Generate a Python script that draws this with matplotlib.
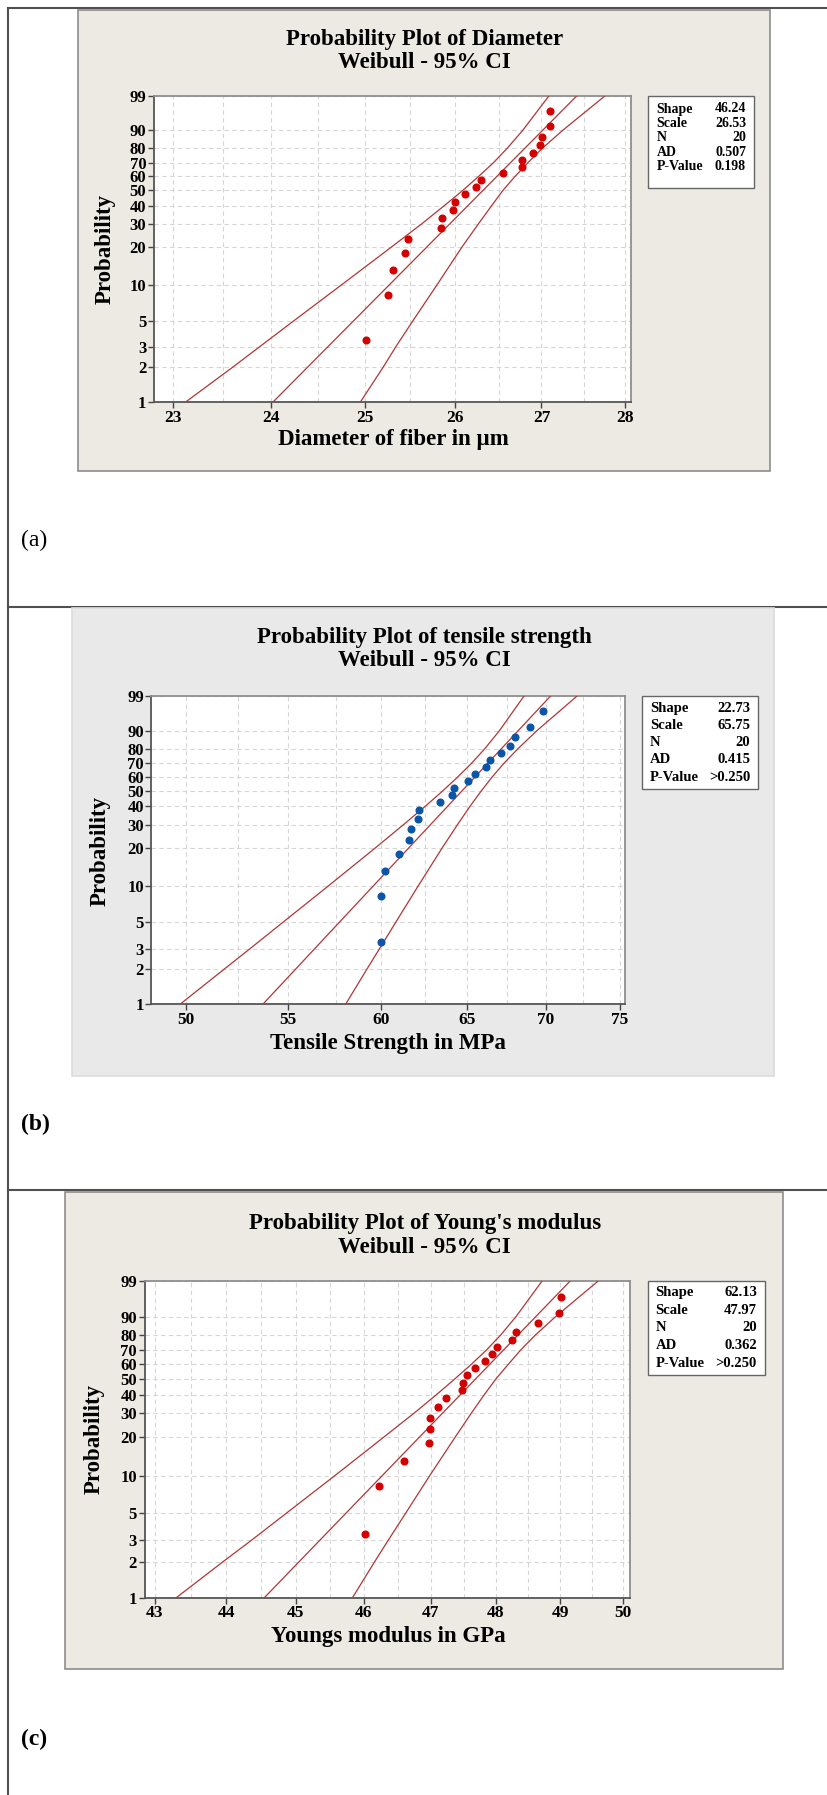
import numpy as np
import matplotlib
matplotlib.use('Agg')
import matplotlib.pyplot as plt
from matplotlib.patches import Rectangle
from matplotlib.lines import Line2D
from matplotlib.ticker import FixedLocator, FixedFormatter, NullFormatter

# ---------------- data ----------------
plot_pct = [3.4, 8.3, 13.2, 18.1, 23.0, 27.9, 32.8, 37.7, 42.6, 47.5,
            52.5, 57.4, 62.3, 67.2, 72.1, 77.0, 81.9, 86.8, 91.7, 96.6]

diam_x = [25.01, 25.25, 25.31, 25.44, 25.48, 25.84, 25.85, 25.98, 26.00, 26.12,
          26.24, 26.30, 26.55, 26.77, 26.77, 26.90, 26.98, 27.01, 27.10, 27.10]
tens_x = [60.00, 60.00, 60.23, 61.01, 61.56, 61.68, 62.08, 62.14, 63.41, 64.09,
          64.25, 65.08, 65.49, 66.16, 66.45, 67.10, 67.67, 67.99, 68.96, 69.81]
young_x = [46.02, 46.22, 46.59, 46.97, 46.99, 46.99, 47.11, 47.23, 47.48, 47.49,
           47.56, 47.68, 47.83, 47.94, 48.01, 48.25, 48.31, 48.65, 48.99, 49.01]

ci_pct = [1, 2, 3, 5, 10, 20, 30, 40, 50, 60, 70, 80, 90, 99]
diam_ci_left = [23.12, 23.60, 23.88, 24.24, 24.75, 25.29, 25.63, 25.88, 26.09, 26.27, 26.44, 26.60, 26.78, 27.09]
diam_ci_right = [24.95, 25.20, 25.34, 25.53, 25.80, 26.08, 26.27, 26.42, 26.55, 26.69, 26.84, 27.01, 27.25, 27.76]
tens_ci_left = [49.70, 51.80, 53.08, 54.73, 57.10, 59.65, 61.27, 62.51, 63.54, 64.45, 65.29, 66.11, 67.02, 68.59]
tens_ci_right = [58.03, 59.20, 59.91, 60.82, 62.11, 63.51, 64.44, 65.19, 65.88, 66.56, 67.30, 68.19, 69.41, 72.09]
young_ci_left = [43.30, 43.96, 44.36, 44.86, 45.56, 46.29, 46.75, 47.09, 47.37, 47.62, 47.85, 48.07, 48.31, 48.72]
young_ci_right = [45.83, 46.16, 46.36, 46.62, 46.98, 47.37, 47.62, 47.82, 48.00, 48.19, 48.38, 48.61, 48.93, 49.61]

fit_pct = [1, 99]
diam_shape, diam_scale = 46.24, 26.53
tens_shape, tens_scale = 22.73, 65.75
young_shape, young_scale = 62.13, 47.97

stat_labels = ['Shape', 'Scale', 'N', 'AD', 'P-Value']
diam_stats = ['46.24', '26.53', '20', '0.507', '0.198']
tens_stats = ['22.73', '65.75', '20', '0.415', '>0.250']
young_stats = ['62.13', '47.97', '20', '0.362', '>0.250']

y_ticks = [1, 2, 3, 5, 10, 20, 30, 40, 50, 60, 70, 80, 90, 99]
diam_ticks = [23, 24, 25, 26, 27, 28]
tens_ticks = [50, 55, 60, 65, 70, 75]
young_ticks = [43, 44, 45, 46, 47, 48, 49, 50]

# ---------------- figure ----------------
W, H = 827, 1795
plt.rcParams['font.family'] = ['Liberation Serif', 'DejaVu Serif']
plt.rcParams['font.weight'] = 'bold'
fig = plt.figure(figsize=(W / 100, H / 100), dpi=100)
fig.patch.set_facecolor('white')


def fx(px):
    return px / W


def fy(py):
    return 1 - py / H


def fwd(p):
    p = np.clip(np.asarray(p, dtype=float), 1e-6, 100 - 1e-6)
    return np.log(-np.log(1 - p / 100.0))


def inv(y):
    y = np.asarray(y, dtype=float)
    return 100.0 * (1 - np.exp(-np.exp(y)))


LINE_C = '#b03636'

panels = [
    dict(box=(77.5, 9.6, 770, 470.7), fc='#ede9e3', ec='#8c8c8c',
         axes=(154, 95.7, 631, 402.3), xlim=(22.807, 28.074), ticks=diam_ticks,
         title='Probability Plot of Diameter', ty=(40, 63),
         xlabel='Diameter of fiber in µm', xl=(393, 440), yl=(105.5, 249),
         leg=(647.7, 95.7, 754, 187.5), leg_x=(656.7, 746),
         leg_rows=[109, 123.3, 137.7, 152.3, 166.7], leg_fs=10,
         tag='(a)', tag_pos=(21, 540), tag_w='normal',
         x=diam_x, color='#d40000', cil=diam_ci_left, cir=diam_ci_right,
         shape=diam_shape, scale=diam_scale, stats=diam_stats),
    dict(box=(72, 608, 774, 1075.7), fc='#e9e9e9', ec='#dcdcdc',
         axes=(151.4, 695.7, 625, 1004.4), xlim=(48.394, 75.37), ticks=tens_ticks,
         title='Probability Plot of tensile strength', ty=(638, 661),
         xlabel='Tensile Strength in MPa', xl=(388.4, 1044), yl=(100, 850.7),
         leg=(642, 695.7, 758, 789), leg_x=(650, 750),
         leg_rows=[708.3, 725.1, 742, 759.2, 777.2], leg_fs=10.5,
         tag='(b)', tag_pos=(21, 1124), tag_w='bold',
         x=tens_x, color='#0b55a8', cil=tens_ci_left, cir=tens_ci_right,
         shape=tens_shape, scale=tens_scale, stats=tens_stats),
    dict(box=(65, 1192, 783, 1668.7), fc='#ede9e3', ec='#8c8c8c',
         axes=(144.5, 1280.8, 629.7, 1597.7), xlim=(42.859, 50.113), ticks=young_ticks,
         title="Probability Plot of Young's modulus", ty=(1223.5, 1247.4),
         xlabel='Youngs modulus in GPa', xl=(388, 1636.4), yl=(94, 1439),
         leg=(647.7, 1280.5, 765, 1375.3), leg_x=(655.6, 756.9),
         leg_rows=[1292.6, 1310.4, 1327.9, 1345.4, 1363.6], leg_fs=10.5,
         tag='(c)', tag_pos=(21, 1739), tag_w='bold',
         x=young_x, color='#d40000', cil=young_ci_left, cir=young_ci_right,
         shape=young_shape, scale=young_scale, stats=young_stats),
]

# table rules
for (x0, y0, x1, y1) in [(8, 8.4, 827, 8.4), (8, 8.4, 8, 1795),
                         (8, 607, 827, 607), (8, 1190, 827, 1190)]:
    fig.add_artist(Line2D([fx(x0), fx(x1)], [fy(y0), fy(y1)], transform=fig.transFigure,
                          color='#505050', lw=1.5, zorder=-2))

for P in panels:
    bx0, by0, bx1, by1 = P['box']
    fig.add_artist(Rectangle((fx(bx0), fy(by1)), (bx1 - bx0) / W, (by1 - by0) / H,
                             transform=fig.transFigure, facecolor=P['fc'],
                             edgecolor=P['ec'], lw=1.2, zorder=-1))
    l, t, r, b = P['axes']
    ax = fig.add_axes([fx(l), fy(b), (r - l) / W, (b - t) / H])
    ax.set_facecolor('white')
    ax.set_xscale('log')
    ax.set_yscale('function', functions=(fwd, inv))
    ax.set_xlim(*P['xlim'])
    ax.set_ylim(1, 99)

    ticks = P['ticks']
    mids = [(a + c) / 2 for a, c in zip(ticks[:-1], ticks[1:])]
    ax.xaxis.set_major_locator(FixedLocator(ticks))
    ax.xaxis.set_major_formatter(FixedFormatter([str(v) for v in ticks]))
    ax.xaxis.set_minor_locator(FixedLocator(mids))
    ax.xaxis.set_minor_formatter(NullFormatter())
    ax.yaxis.set_major_locator(FixedLocator(y_ticks))
    ax.yaxis.set_major_formatter(FixedFormatter([str(v) for v in y_ticks]))
    ax.yaxis.set_minor_locator(FixedLocator([]))

    ax.set_axisbelow(True)
    ax.grid(True, which='both', axis='x', color='#d6d6d6', lw=0.8, ls=(0, (4, 3)))
    ax.grid(True, which='major', axis='y', color='#d6d6d6', lw=0.8, ls=(0, (4, 3)))
    ax.tick_params(axis='both', which='major', direction='out', length=4, width=1,
                   color='#444444')
    ax.tick_params(axis='x', which='minor', length=0)
    ax.tick_params(axis='x', labelsize=12.5, pad=1.5)
    ax.tick_params(axis='y', labelsize=12, pad=1.5)
    for s in ('left', 'bottom'):
        ax.spines[s].set_color('#555555')
        ax.spines[s].set_linewidth(1.3)
    for s in ('top', 'right'):
        ax.spines[s].set_color('#8f8f8f')
        ax.spines[s].set_linewidth(1.3)

    # fitted line and confidence bounds
    shp, scl = P['shape'], P['scale']
    fit_x = [scl * (-np.log(1 - p / 100.0)) ** (1.0 / shp) for p in fit_pct]
    ax.plot(fit_x, fit_pct, color=LINE_C, lw=0.9, zorder=3)
    ax.plot(P['cil'], ci_pct, color=LINE_C, lw=0.9, zorder=3)
    ax.plot(P['cir'], ci_pct, color=LINE_C, lw=0.9, zorder=3)
    ax.plot(P['x'], plot_pct, 'o', color=P['color'], ms=4.8, mec=P['color'],
            zorder=4, clip_on=False)

    # texts
    fig.text(fx(424.6), fy(P['ty'][0]), P['title'], ha='center', va='center',
             fontsize=16.5, fontweight='bold')
    fig.text(fx(424.6), fy(P['ty'][1]), 'Weibull - 95% CI', ha='center', va='center',
             fontsize=16.5, fontweight='bold')
    fig.text(fx(P['xl'][0]), fy(P['xl'][1]), P['xlabel'], ha='center', va='center',
             fontsize=16.5, fontweight='bold')
    fig.text(fx(P['yl'][0]), fy(P['yl'][1]), 'Probability', ha='center', va='center',
             rotation=90, fontsize=16.5, fontweight='bold')
    fig.text(fx(P['tag_pos'][0]), fy(P['tag_pos'][1]), P['tag'], ha='left', va='center',
             fontsize=17, fontweight=P['tag_w'])

    # stats box
    lx0, ly0, lx1, ly1 = P['leg']
    fig.add_artist(Rectangle((fx(lx0), fy(ly1)), (lx1 - lx0) / W, (ly1 - ly0) / H,
                             transform=fig.transFigure, facecolor='white',
                             edgecolor='#666666', lw=1.0, zorder=5))
    for lab, val, yy in zip(stat_labels, P['stats'], P['leg_rows']):
        fig.text(fx(P['leg_x'][0]), fy(yy), lab, ha='left', va='center',
                 fontsize=P['leg_fs'], fontweight='bold', zorder=6)
        fig.text(fx(P['leg_x'][1]), fy(yy), val, ha='right', va='center',
                 fontsize=P['leg_fs'], fontweight='bold', zorder=6)

fig.savefig('out.png', dpi=100, facecolor='white')
